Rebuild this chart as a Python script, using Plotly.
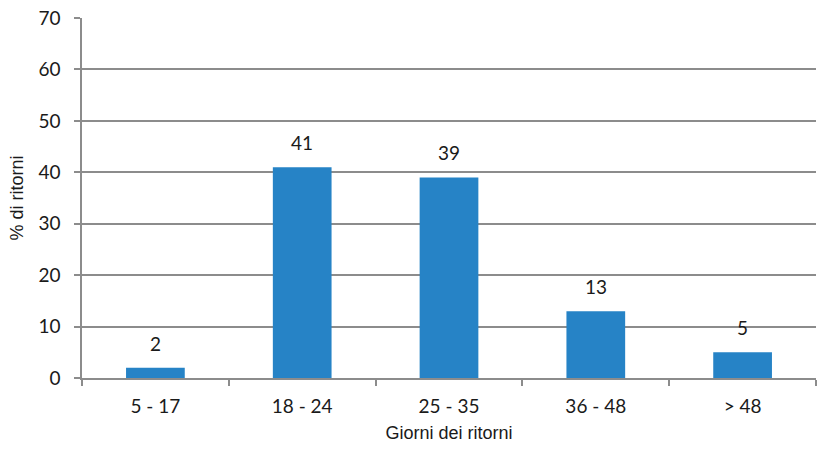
import plotly.graph_objects as go

# classi di giorni e percentuali
giorni = ['5 - 17', '18 - 24', '25 - 35', '36 - 48', '> 48']
percentuali = [2, 41, 39, 13, 5]

colore_barre = '#2683c6'
grigio = '#8c8c8c'
testo = '#1a1a1a'

fig = go.Figure()
fig.add_trace(go.Bar(x=giorni, y=percentuali, marker=dict(color=colore_barre, line=dict(width=0)),
                     width=0.4, showlegend=False, hoverinfo='x+y'))

# etichette sopra le barre
for g, p in zip(giorni, percentuali):
    fig.add_annotation(x=g, y=p, text=str(p), showarrow=False, yanchor='bottom', yshift=11,
                       font=dict(family='Lato', size=19, color=testo))

fig.update_layout(
    width=820, height=461,
    margin=dict(l=82, r=4, t=18, b=83),
    plot_bgcolor='white', paper_bgcolor='white',
)

fig.update_xaxes(type='category', showline=True, linecolor=grigio, linewidth=1.5,
                 ticks='outside', tickson='boundaries', ticklen=6, tickcolor=grigio, tickwidth=1.5,
                 ticklabelstandoff=10, automargin=False,
                 tickfont=dict(family='Lato', size=19, color=testo),
                 title=dict(text='Giorni dei ritorni', standoff=11,
                            font=dict(family='Liberation Sans', size=18, color=testo)))

fig.update_yaxes(range=[0, 70], dtick=10, showline=True, linecolor=grigio, linewidth=1.5,
                 showgrid=True, gridcolor=grigio, gridwidth=1.5, zeroline=False,
                 ticks='outside', ticklen=6, tickcolor=grigio, tickwidth=1.5,
                 ticklabelstandoff=10, ticklabeloverflow='allow', automargin=False,
                 tickfont=dict(family='Lato', size=19, color=testo),
                 title=dict(text='% di ritorni', standoff=10,
                            font=dict(family='Liberation Sans', size=18, color=testo)))

# niente margine della pagina, cosi la figura riempie la finestra
fig.write_html('out.html', config={'displayModeBar': False},
               post_script="document.body.style.margin='0';")
